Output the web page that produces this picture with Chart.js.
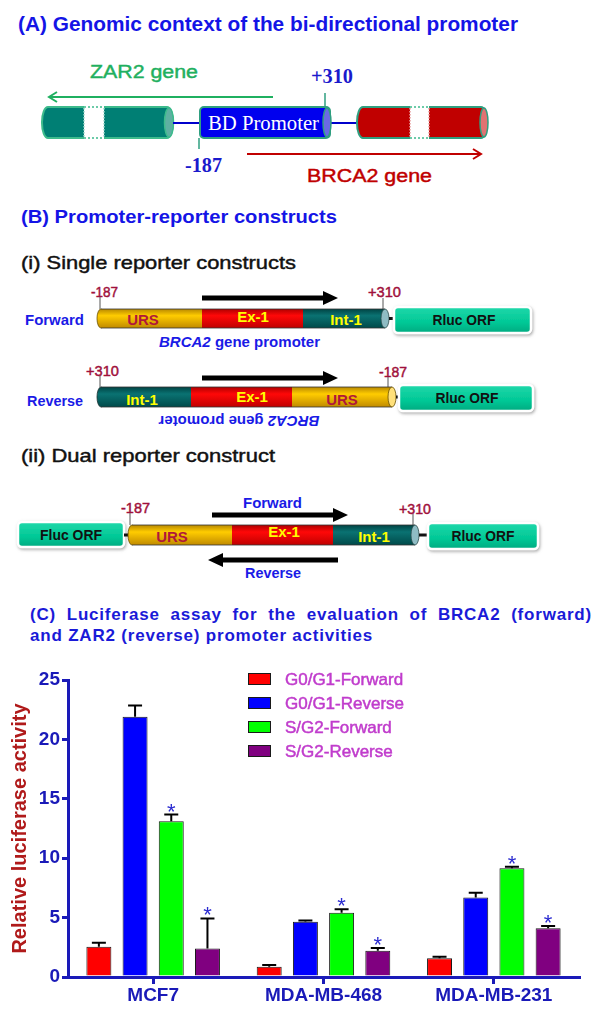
<!DOCTYPE html>
<html><head><meta charset="utf-8">
<script src="https://cdn.jsdelivr.net/npm/chart.js@4.4.1/dist/chart.umd.min.js"></script>
<style>
html,body{margin:0;padding:0;background:#fff;}
#wrap{position:relative;width:600px;height:1015px;overflow:hidden;background:#fff;}
#diagram{position:absolute;left:0;top:0;}
#chart{position:absolute;left:0;top:650px;}
.ct{position:absolute;left:30px;width:562px;font:bold 17px "Liberation Sans",Arial,sans-serif;color:#1a1ad8;letter-spacing:0.8px;line-height:21px;white-space:nowrap;}
#c1{top:604px;text-align:justify;text-align-last:justify;white-space:normal;}
#c2{top:625px;}
.heavy{stroke-width:0.45px;paint-order:stroke;}
</style></head><body>
<div id="wrap">
<svg id="diagram" width="600" height="650" xmlns="http://www.w3.org/2000/svg" font-family="'Liberation Sans', Arial, sans-serif">
<defs>
 <linearGradient id="gUrs" x1="0" y1="0" x2="0" y2="1"><stop offset="0" stop-color="#b88800"/><stop offset="0.35" stop-color="#ffcc00"/><stop offset="1" stop-color="#c08a00"/></linearGradient>
 <linearGradient id="gEx" x1="0" y1="0" x2="0" y2="1"><stop offset="0" stop-color="#b00000"/><stop offset="0.35" stop-color="#ff0808"/><stop offset="1" stop-color="#c00000"/></linearGradient>
 <linearGradient id="gInt" x1="0" y1="0" x2="0" y2="1"><stop offset="0" stop-color="#004444"/><stop offset="0.35" stop-color="#0a7272"/><stop offset="1" stop-color="#004a4a"/></linearGradient>
 <linearGradient id="gOrf" x1="0" y1="0" x2="0" y2="1"><stop offset="0" stop-color="#20d8aa"/><stop offset="0.6" stop-color="#00c896"/><stop offset="1" stop-color="#00aa80"/></linearGradient>
 <filter id="sh" x="-10%" y="-30%" width="125%" height="170%"><feDropShadow dx="1" dy="1.5" stdDeviation="1.5" flood-color="#888" flood-opacity="0.7"/></filter>
</defs>

<!-- Panel A -->
<text x="18" y="31" font-size="20" font-weight="bold" fill="#1414e6" textLength="500" lengthAdjust="spacingAndGlyphs">(A) Genomic context of the bi-directional promoter</text>
<text x="90" y="78" font-size="18" fill="#1fb060" stroke="#1fb060" class="heavy" textLength="108" lengthAdjust="spacingAndGlyphs">ZAR2 gene</text>
<line x1="273" y1="97" x2="49" y2="97" stroke="#1fb060" stroke-width="2"/>
<polyline points="57,92 49,97 57,102" fill="none" stroke="#1fb060" stroke-width="2"/>

<rect x="42" y="107" width="131" height="31" rx="6" ry="15" fill="#007f74" stroke="#3dbb8c" stroke-width="2"/>
<rect x="84" y="106" width="20" height="33" fill="#fff"/>
<line x1="84" y1="107" x2="104" y2="107" stroke="#3dbb8c" stroke-width="1.5" stroke-dasharray="2,2"/>
<line x1="84" y1="138" x2="104" y2="138" stroke="#3dbb8c" stroke-width="1.5" stroke-dasharray="2,2"/>
<line x1="84" y1="108" x2="84" y2="137" stroke="#9fd8cc" stroke-width="1.5" stroke-dasharray="1.5,1.5"/>
<line x1="104" y1="108" x2="104" y2="137" stroke="#9fd8cc" stroke-width="1.5" stroke-dasharray="1.5,1.5"/>
<ellipse cx="169" cy="122.5" rx="4.5" ry="14.5" fill="#5eb0a2" stroke="#3dbb8c" stroke-width="1.5"/>

<line x1="173" y1="123" x2="200" y2="123" stroke="#0000cc" stroke-width="2"/>
<line x1="331" y1="123" x2="357" y2="123" stroke="#0000cc" stroke-width="2"/>

<rect x="200" y="107" width="130" height="31" rx="4" fill="#0000ee" stroke="#2f9f80" stroke-width="2"/>
<ellipse cx="327" cy="122.5" rx="4" ry="14.5" fill="#6a6ae4" stroke="#2f9f80" stroke-width="1.5"/>
<text x="208" y="130" font-family="'Liberation Serif', 'Times New Roman', serif" font-size="20" fill="#fff" textLength="111" lengthAdjust="spacingAndGlyphs">BD Promoter</text>
<line x1="199" y1="138" x2="199" y2="149" stroke="#2f9f80" stroke-width="1.5"/>
<line x1="325" y1="93" x2="325" y2="107" stroke="#2f9f80" stroke-width="1.5"/>
<text x="185" y="172" font-family="'Liberation Serif', 'Times New Roman', serif" font-size="20" font-weight="bold" fill="#1a1acc" textLength="37" lengthAdjust="spacingAndGlyphs">-187</text>
<text x="311" y="83" font-family="'Liberation Serif', 'Times New Roman', serif" font-size="20" font-weight="bold" fill="#1a1acc" textLength="42" lengthAdjust="spacingAndGlyphs">+310</text>

<rect x="357" y="107" width="130" height="31" rx="6" ry="15" fill="#c00000" stroke="#2f9f80" stroke-width="2"/>
<rect x="410" y="106" width="19" height="33" fill="#fff"/>
<line x1="410" y1="107" x2="429" y2="107" stroke="#3dbb8c" stroke-width="1.5" stroke-dasharray="2,2"/>
<line x1="410" y1="138" x2="429" y2="138" stroke="#3dbb8c" stroke-width="1.5" stroke-dasharray="2,2"/>
<line x1="410" y1="108" x2="410" y2="137" stroke="#e8a0a0" stroke-width="1.5" stroke-dasharray="1.5,1.5"/>
<line x1="429" y1="108" x2="429" y2="137" stroke="#e8a0a0" stroke-width="1.5" stroke-dasharray="1.5,1.5"/>
<ellipse cx="484" cy="122.5" rx="4" ry="14.5" fill="#e07272" stroke="#2f9f80" stroke-width="1.5"/>

<line x1="247" y1="154" x2="481" y2="154" stroke="#c00000" stroke-width="2"/>
<polyline points="473,149 481,154 473,159" fill="none" stroke="#c00000" stroke-width="2"/>
<text x="307" y="182" font-size="18" fill="#c00000" stroke="#c00000" class="heavy" textLength="125" lengthAdjust="spacingAndGlyphs">BRCA2 gene</text>

<!-- Panel B -->
<text x="21" y="223" font-size="19" font-weight="bold" fill="#1414e6" textLength="316" lengthAdjust="spacingAndGlyphs">(B) Promoter-reporter constructs</text>
<text x="21" y="269" font-size="19" fill="#111" stroke="#111" class="heavy" textLength="275" lengthAdjust="spacingAndGlyphs">(i) Single reporter constructs</text>

<!-- forward single -->
<text x="25" y="325" font-size="15" font-weight="bold" fill="#1a1ae6" textLength="59" lengthAdjust="spacingAndGlyphs">Forward</text>
<text x="91" y="297" font-size="14" fill="#a0103c" stroke="#a0103c" class="heavy" textLength="27" lengthAdjust="spacingAndGlyphs">-187</text>
<text x="368" y="297" font-size="14" fill="#a0103c" stroke="#a0103c" class="heavy" textLength="33" lengthAdjust="spacingAndGlyphs">+310</text>
<line x1="100" y1="297" x2="100" y2="309" stroke="#555" stroke-width="1"/>
<line x1="383" y1="298" x2="383" y2="309" stroke="#555" stroke-width="1"/>
<line x1="202" y1="298" x2="325" y2="298" stroke="#000" stroke-width="5"/>
<polygon points="323,291 338,298 323,305" fill="#000"/>
<ellipse cx="101" cy="318.5" rx="4" ry="9.5" fill="url(#gUrs)" stroke="#6a5000" stroke-width="0.8"/>
<rect x="101" y="309" width="101" height="19" fill="url(#gUrs)"/>
<rect x="202" y="309" width="101" height="19" fill="url(#gEx)"/>
<rect x="303" y="309" width="82" height="19" fill="url(#gInt)"/>
<line x1="101" y1="309" x2="385" y2="309" stroke="#333" stroke-width="0.8"/>
<line x1="101" y1="328" x2="385" y2="328" stroke="#333" stroke-width="0.8"/>
<ellipse cx="385" cy="318.5" rx="4" ry="9.5" fill="#8fbcc4" stroke="#2a4a4a" stroke-width="0.8"/>
<text x="143" y="325" font-size="15" font-weight="bold" fill="#b0183a" text-anchor="middle">URS</text>
<text x="253" y="322" font-size="15" font-weight="bold" fill="#ffff00" text-anchor="middle">Ex-1</text>
<text x="346" y="325" font-size="15" font-weight="bold" fill="#ffff00" text-anchor="middle">Int-1</text>
<line x1="389" y1="318.5" x2="396" y2="318.5" stroke="#111" stroke-width="3"/>
<rect x="394" y="307" width="137" height="26" rx="4" fill="url(#gOrf)" stroke="#fff" stroke-width="2.5" filter="url(#sh)"/>
<text x="464" y="325" font-size="15" font-weight="bold" fill="#111" text-anchor="middle" textLength="63" lengthAdjust="spacingAndGlyphs">Rluc ORF</text>
<text x="159" y="347" font-size="15" font-weight="bold" fill="#1a1ae6" textLength="161" lengthAdjust="spacingAndGlyphs"><tspan font-style="italic">BRCA2</tspan> gene promoter</text>

<!-- reverse single -->
<text x="27" y="406" font-size="15" font-weight="bold" fill="#1a1ae6" textLength="56" lengthAdjust="spacingAndGlyphs">Reverse</text>
<text x="86" y="376" font-size="14" fill="#a0103c" stroke="#a0103c" class="heavy" textLength="33" lengthAdjust="spacingAndGlyphs">+310</text>
<text x="379" y="377" font-size="14" fill="#a0103c" stroke="#a0103c" class="heavy" textLength="28" lengthAdjust="spacingAndGlyphs">-187</text>
<line x1="100" y1="376" x2="100" y2="387" stroke="#555" stroke-width="1"/>
<line x1="388" y1="377" x2="388" y2="387" stroke="#555" stroke-width="1"/>
<line x1="202" y1="378" x2="325" y2="378" stroke="#000" stroke-width="5"/>
<polygon points="323,371 338,378 323,385" fill="#000"/>
<ellipse cx="101" cy="397" rx="4" ry="10" fill="url(#gInt)" stroke="#1a3030" stroke-width="0.8"/>
<rect x="101" y="387" width="90" height="20" fill="url(#gInt)"/>
<rect x="191" y="387" width="101" height="20" fill="url(#gEx)"/>
<rect x="292" y="387" width="100" height="20" fill="url(#gUrs)"/>
<line x1="101" y1="387" x2="392" y2="387" stroke="#333" stroke-width="0.8"/>
<line x1="101" y1="407" x2="392" y2="407" stroke="#333" stroke-width="0.8"/>
<ellipse cx="392" cy="397" rx="4" ry="10" fill="#ffe07a" stroke="#6a5000" stroke-width="0.8"/>
<text x="142" y="405" font-size="15" font-weight="bold" fill="#ffff00" text-anchor="middle">Int-1</text>
<text x="252" y="402" font-size="15" font-weight="bold" fill="#ffff00" text-anchor="middle">Ex-1</text>
<text x="342" y="405" font-size="15" font-weight="bold" fill="#b0183a" text-anchor="middle">URS</text>
<line x1="396" y1="397" x2="401" y2="397" stroke="#111" stroke-width="3"/>
<rect x="399" y="385" width="134" height="26" rx="4" fill="url(#gOrf)" stroke="#fff" stroke-width="2.5" filter="url(#sh)"/>
<text x="467" y="403" font-size="15" font-weight="bold" fill="#111" text-anchor="middle" textLength="63" lengthAdjust="spacingAndGlyphs">Rluc ORF</text>
<text x="239" y="426.5" font-size="15" font-weight="bold" fill="#1a1ae6" text-anchor="middle" textLength="161" lengthAdjust="spacingAndGlyphs" transform="rotate(180 239 421)"><tspan font-style="italic">BRCA2</tspan> gene promoter</text>

<!-- Dual -->
<text x="21" y="462" font-size="19" fill="#111" stroke="#111" class="heavy" textLength="254" lengthAdjust="spacingAndGlyphs">(ii) Dual reporter construct</text>
<text x="243" y="508" font-size="15" font-weight="bold" fill="#1a1ae6" textLength="59" lengthAdjust="spacingAndGlyphs">Forward</text>
<text x="245" y="578" font-size="15" font-weight="bold" fill="#1a1ae6" textLength="56" lengthAdjust="spacingAndGlyphs">Reverse</text>
<line x1="212" y1="515" x2="335" y2="515" stroke="#000" stroke-width="5"/>
<polygon points="333,508 348,515 333,522" fill="#000"/>
<line x1="221" y1="560" x2="338" y2="560" stroke="#000" stroke-width="5"/>
<polygon points="223,553 208,560 223,567" fill="#000"/>
<text x="121" y="513" font-size="14" fill="#a0103c" stroke="#a0103c" class="heavy" textLength="29" lengthAdjust="spacingAndGlyphs">-187</text>
<text x="399" y="514" font-size="14" fill="#a0103c" stroke="#a0103c" class="heavy" textLength="32" lengthAdjust="spacingAndGlyphs">+310</text>
<line x1="130" y1="513" x2="130" y2="525" stroke="#555" stroke-width="1"/>
<line x1="413" y1="514" x2="413" y2="525" stroke="#555" stroke-width="1"/>
<rect x="18" y="522" width="106" height="25" rx="4" fill="url(#gOrf)" stroke="#fff" stroke-width="2.5" filter="url(#sh)"/>
<text x="71" y="540" font-size="15" font-weight="bold" fill="#111" text-anchor="middle" textLength="62" lengthAdjust="spacingAndGlyphs">Fluc ORF</text>
<line x1="124" y1="535" x2="132" y2="535" stroke="#111" stroke-width="3"/>
<ellipse cx="132" cy="535" rx="4" ry="10" fill="url(#gUrs)" stroke="#6a5000" stroke-width="0.8"/>
<rect x="132" y="525" width="100" height="20" fill="url(#gUrs)"/>
<rect x="232" y="525" width="101" height="20" fill="url(#gEx)"/>
<rect x="333" y="525" width="82" height="20" fill="url(#gInt)"/>
<line x1="132" y1="525" x2="415" y2="525" stroke="#333" stroke-width="0.8"/>
<line x1="132" y1="545" x2="415" y2="545" stroke="#333" stroke-width="0.8"/>
<ellipse cx="415" cy="535" rx="4" ry="10" fill="#8fbcc4" stroke="#2a4a4a" stroke-width="0.8"/>
<text x="172" y="542" font-size="15" font-weight="bold" fill="#b0183a" text-anchor="middle">URS</text>
<text x="284" y="537" font-size="15" font-weight="bold" fill="#ffff00" text-anchor="middle">Ex-1</text>
<text x="374" y="542" font-size="15" font-weight="bold" fill="#ffff00" text-anchor="middle">Int-1</text>
<line x1="419" y1="535" x2="429" y2="535" stroke="#111" stroke-width="3"/>
<rect x="428" y="523" width="110" height="26" rx="4" fill="url(#gOrf)" stroke="#fff" stroke-width="2.5" filter="url(#sh)"/>
<text x="483" y="541" font-size="15" font-weight="bold" fill="#111" text-anchor="middle" textLength="63" lengthAdjust="spacingAndGlyphs">Rluc ORF</text>
</svg>
<div class="ct" id="c1">(C) Luciferase assay for the evaluation of BRCA2 (forward)</div>
<div class="ct" id="c2">and ZAR2 (reverse) promoter activities</div>
<canvas id="chart" width="600" height="365"></canvas>
</div>
<script>
// ---- data ----
const categories = ['MCF7', 'MDA-MB-468', 'MDA-MB-231'];
const seriesNames = ['G0/G1-Forward', 'G0/G1-Reverse', 'S/G2-Forward', 'S/G2-Reverse'];
const g1Forward = [2.55, 0.87, 1.57];
const g1ForwardErr = [0.33, 0.13, 0.13];
const g1Reverse = [21.9, 4.65, 6.7];
const g1ReverseErr = [0.95, 0.11, 0.4];
const sForward = [13.1, 5.4, 9.15];
const sForwardErr = [0.57, 0.3, 0.12];
const sReverse = [2.4, 2.2, 4.1];
const sReverseErr = [2.53, 0.25, 0.2];
const g1ForwardSig = [false, false, false];
const g1ReverseSig = [false, false, false];
const sForwardSig = [true, true, true];
const sReverseSig = [true, true, true];
const yTicks = [0, 5, 10, 15, 20, 25];

const FONT = '"Liberation Sans", Arial, sans-serif';
const AXIS = '#1a1ab8';
const STAR = '#2b2bd0';
const LEG_TXT = '#c03ccc';
const colors = ['#ff0000', '#0000ff', '#00ff00', '#800080'];

function mk(i, data, errs, sig) {
  return { label: seriesNames[i], data: data, errors: errs, sig: sig,
    backgroundColor: colors[i], borderColor: '#1a1a1a', borderWidth: 1,
    categoryPercentage: 0.85, barPercentage: 0.69 };
}

const errorPlugin = {
  id: 'errorBars',
  afterDatasetsDraw(chart) {
    const ctx = chart.ctx, y = chart.scales.y;
    chart.data.datasets.forEach((ds, di) => {
      const meta = chart.getDatasetMeta(di);
      meta.data.forEach((bar, i) => {
        const v = ds.data[i], e = ds.errors[i];
        const yb = y.getPixelForValue(v), yt = y.getPixelForValue(v + e);
        ctx.save();
        ctx.strokeStyle = '#000'; ctx.lineWidth = 2;
        ctx.beginPath();
        ctx.moveTo(bar.x, yb); ctx.lineTo(bar.x, yt);
        ctx.moveTo(bar.x - 7, yt); ctx.lineTo(bar.x + 7, yt);
        ctx.stroke();
        if (ds.sig[i]) {
          ctx.fillStyle = STAR; ctx.font = '22px ' + FONT;
          ctx.textAlign = 'center'; ctx.textBaseline = 'alphabetic';
          ctx.fillText('*', bar.x, yt + 4);
        }
        ctx.restore();
      });
    });
  },
  afterDraw(chart) {
    const ctx = chart.ctx;
    chart.data.datasets.forEach((ds, i) => {
      const bx = 248, by = 23 + i * 24;
      ctx.save();
      ctx.fillStyle = ds.backgroundColor;
      ctx.fillRect(bx, by, 23, 12);
      ctx.strokeStyle = '#1a1a1a'; ctx.lineWidth = 1;
      ctx.strokeRect(bx + 0.5, by + 0.5, 22, 11);
      ctx.fillStyle = LEG_TXT; ctx.strokeStyle = LEG_TXT; ctx.lineWidth = 0.5;
      ctx.font = '17px ' + FONT;
      ctx.textAlign = 'left'; ctx.textBaseline = 'middle';
      ctx.fillText(ds.label, 285, by + 7);
      ctx.strokeText(ds.label, 285, by + 7);
      ctx.restore();
    });
  }
};

new Chart(document.getElementById('chart'), {
  type: 'bar',
  data: {
    labels: categories,
    datasets: [
      mk(0, g1Forward, g1ForwardErr, g1ForwardSig),
      mk(1, g1Reverse, g1ReverseErr, g1ReverseSig),
      mk(2, sForward, sForwardErr, sForwardSig),
      mk(3, sReverse, sReverseErr, sReverseSig)
    ]
  },
  options: {
    responsive: false, animation: false,
    layout: { padding: { left: 0, right: 21, top: 30, bottom: 0 } },
    plugins: { legend: { display: false }, tooltip: { enabled: false } },
    scales: {
      x: {
        grid: { display: true, drawOnChartArea: false, offset: false, tickLength: 7, color: AXIS, lineWidth: 3 },
        border: { color: AXIS, width: 3 },
        ticks: { color: AXIS, font: { family: FONT, size: 19, weight: 'bold' }, padding: 0 },
        afterFit(s) { s.height = 38; }
      },
      y: {
        min: 0, max: 25,
        afterBuildTicks(s) { s.ticks = yTicks.map(v => ({ value: v })); },
        grid: { display: true, drawOnChartArea: false, tickLength: 6, color: AXIS, lineWidth: 3 },
        border: { color: AXIS, width: 3 },
        ticks: { color: AXIS, font: { family: FONT, size: 19, weight: 'bold' }, padding: 2 },
        title: { display: true, text: 'Relative luciferase activity', color: '#b01a1a',
                 font: { family: FONT, size: 20, weight: 'bold' }, padding: { top: 8, bottom: 0 } },
        afterFit(s) { s.width = 68; }
      }
    }
  },
  plugins: [errorPlugin]
});
</script>
</body></html>
